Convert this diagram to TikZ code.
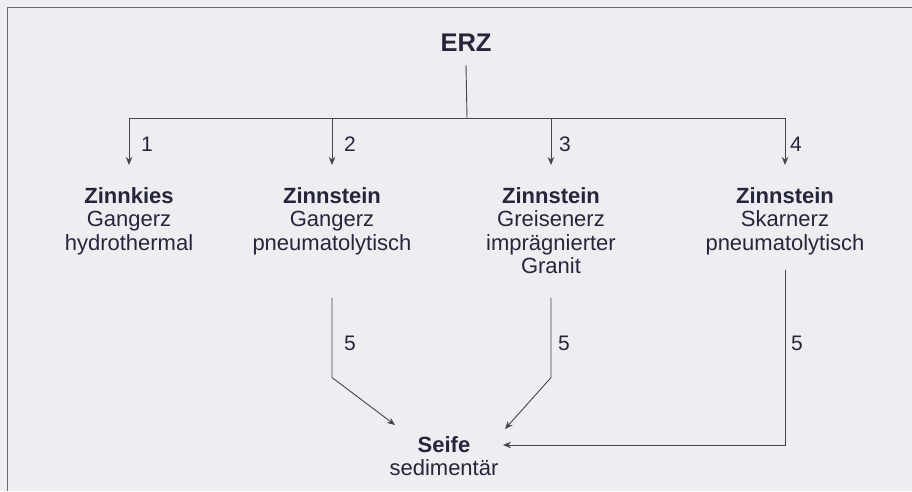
\documentclass[tikz,border=0pt]{standalone}
\usepackage{fontspec}
\setmainfont{Liberation Sans}
\usetikzlibrary{arrows.meta}
\definecolor{bg}{HTML}{EDEDF2}
\definecolor{ln}{HTML}{45454F}
\definecolor{txt}{HTML}{26263A}
\begin{document}
\begin{tikzpicture}[x=1pt,y=-1pt,
  conn/.style={draw=ln, line width=0.9pt},
  arr/.style={conn, -{Stealth[length=8pt,width=6.5pt]}},
  frameline/.style={draw=ln!80, line width=1pt},
  box/.style={align=center, inner sep=0pt, anchor=north, text=txt,
    font=\fontsize{22}{23.5}\selectfont},
  title/.style={inner sep=0pt, anchor=base, text=txt,
    font=\fontsize{25.5}{30}\selectfont\bfseries},
  num/.style={inner sep=0pt, anchor=center, text=txt,
    font=\fontsize{21}{24}\selectfont}]
\fill[bg] (0,0) rectangle (912,491);
\useasboundingbox (0,0) rectangle (912,491);
\draw[frameline] (7,491) -- (7,7) -- (912,7);

\node[title] (erz) at (466,51) {ERZ};
\coordinate (hub) at (467,118);
\coordinate (b1) at (129,118);
\coordinate (b2) at (332,118);
\coordinate (b3) at (551,118);
\coordinate (b4) at (785,118);

\node[box] (n1) at (129,187) {\textbf{Zinnkies}\\Gangerz\\hydrothermal};
\node[box] (n2) at (332,187) {\textbf{Zinnstein}\\Gangerz\\pneumatolytisch};
\node[box] (n3) at (551,187) {\textbf{Zinnstein}\\Greisenerz\\imprägnierter\\Granit};
\node[box] (n4) at (785,187) {\textbf{Zinnstein}\\Skarnerz\\pneumatolytisch};
\node[box] (seife) at (444,436) {\textbf{Seife}\\sedimentär};

\draw[conn] ([yshift=-14pt]erz.south) -- (hub);
\draw[conn] (b1) -- (b4);
\draw[arr] (b1) -- ([yshift=22pt]n1.north);
\draw[arr] (b2) -- ([yshift=22pt]n2.north);
\draw[arr] (b3) -- ([yshift=22pt]n3.north);
\draw[arr] (b4) -- ([yshift=22pt]n4.north);

\node[num] (l1) at (147,144) {1};
\node[num] (l2) at (350,144) {2};
\node[num] (l3) at (565,144) {3};
\node[num] (l4) at (796,144) {4};

\draw[arr] ([yshift=-42.6pt]n2.south) -- ++(0,80) -- ([xshift=-49pt,yshift=11pt]seife.north);
\draw[arr] ([yshift=-23.5pt]n3.south) -- ++(0,80) -- ([xshift=61pt,yshift=7pt]seife.north);
\draw[arr] ([yshift=-14.6pt]n4.south) |- ([xshift=59pt,yshift=-9pt]seife.north);

\node[num] (l5a) at (350,343) {5};
\node[num] (l5b) at (564,343) {5};
\node[num] (l5c) at (797,343) {5};
\end{tikzpicture}
\end{document}
